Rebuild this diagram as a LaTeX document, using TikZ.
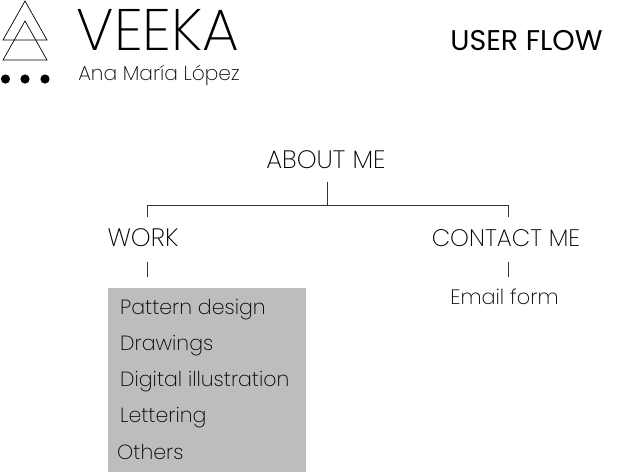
\documentclass[tikz,border=0pt]{standalone}
\usepackage{fontspec}
\setmainfont{Poppins}[UprightFont=* Light]
\newfontfamily\thinfont{Poppins}[UprightFont=* ExtraLight]
\newfontfamily\titlefont{Poppins}
\begin{document}
\begin{tikzpicture}[x=1pt,y=-1pt,
  flowlabel/.style={inner sep=0pt,font=\thinfont\fontsize{25.2}{28}\selectfont,text=black},
  menuitem/.style={inner sep=0pt,anchor=west,font=\thinfont\fontsize{20.5}{24}\selectfont,text=black},
  flowline/.style={draw=black!80,line width=0.8pt}]
\definecolor{panelgray}{RGB}{191,188,188}
\useasboundingbox (0,0) rectangle (629,472);
\fill[fill=white] (0,0) rectangle (629,472);
% logo
\draw[line width=0.7pt] (25,1) -- (3,40) -- (47,40) -- cycle;
\draw[line width=0.7pt] (25,21) -- (3,60) -- (47,60) -- cycle;
\foreach \px in {5.5,25,45} \fill (\px,79) circle (4.6);
\node[inner sep=0pt,font=\thinfont\fontsize{58.5}{60}\selectfont] (brand) at (158,30) {VEEKA};
\node[inner sep=0pt,font=\thinfont\fontsize{20.2}{24}\selectfont] (author) at (159,75) {Ana María López};
\node[inner sep=0pt,font=\titlefont\fontsize{28.5}{32}\selectfont] (title) at (526.5,41) {USER FLOW};
% tree
\node[flowlabel] (about) at (326,160) {ABOUT ME};
\node[flowlabel] (work) at (143,238) {WORK};
\node[flowlabel,font=\thinfont\fontsize{23.9}{28}\selectfont] (contact) at (506,238) {CONTACT ME};
\coordinate (fork) at (327,205.3);
\draw[flowline] (327,182) -- (fork);
\draw[flowline] (147,217) |- (fork) -| (508,217);
\draw[flowline] (147,262) -- (147,277);
\draw[flowline] (508,262) -- (508,277);
\node[flowlabel,font=\thinfont\fontsize{20.8}{24}\selectfont] (email) at (504.5,297) {Email form};
\fill[fill=panelgray] (108,288) rectangle (306,472);
\node[menuitem] (pattern) at (120,310) {Pattern design};
\node[menuitem] (drawings) at (120,346) {Drawings};
\node[menuitem] (digital) at (120,382) {Digital illustration};
\node[menuitem] (lettering) at (120,418) {Lettering};
\node[menuitem] (others) at (117,452) {Others};
\end{tikzpicture}
\end{document}
